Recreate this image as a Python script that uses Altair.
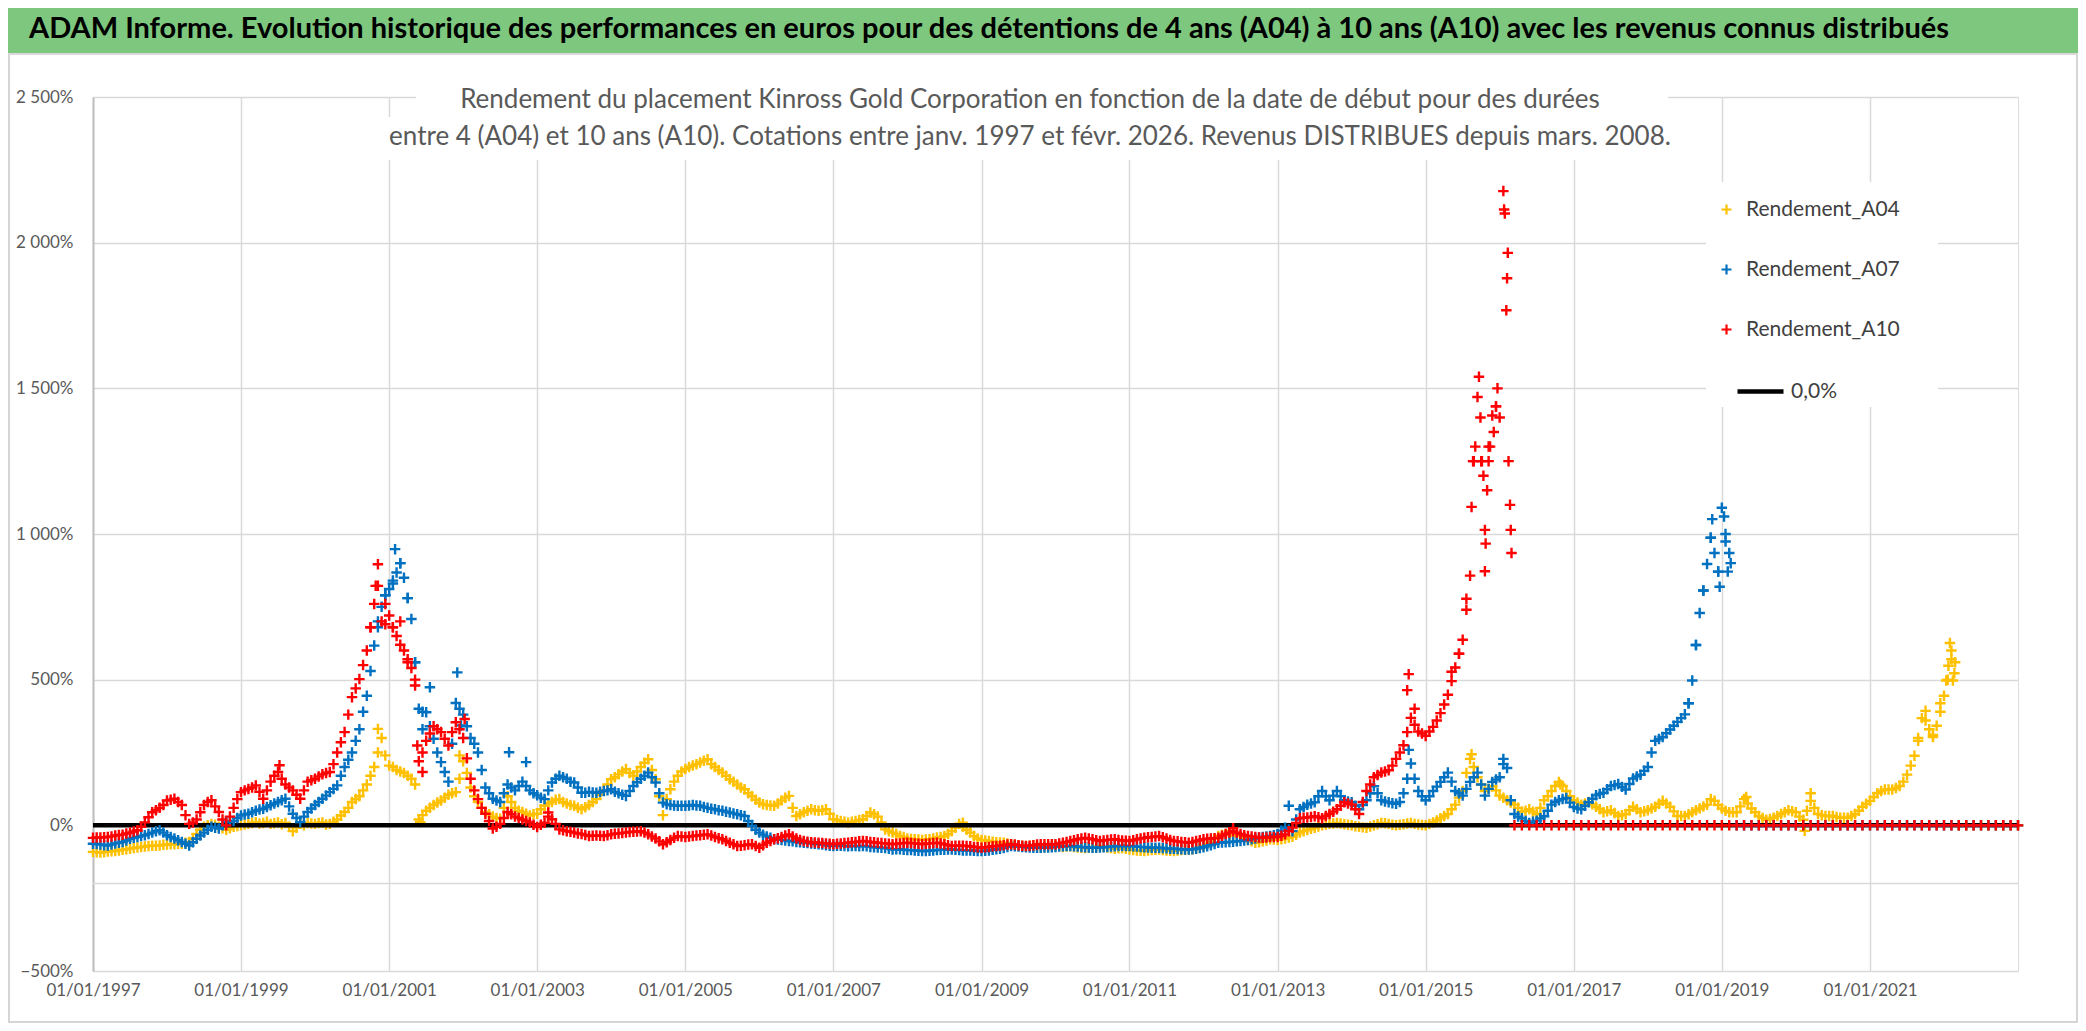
import altair as alt
import pandas as pd
import numpy as np

# ---------------- data (percent) ----------------
# main readings every 0.1 year from 1997.0; second readings every 0.1 year from 1997.05
START = 1997.0
START_H = 1997.05
STEP = 0.1

a04 = [
    -91, -93, -90, -88, -84, -80, -76, -73, -70, -69,   # 1997
    -66, -65, -63, -57, -30, -5, 5, -5, -15, -5,        # 1998
    0, 5, 11, 8, 5, 10, 8, -20, 5, 8,                   # 1999
    5, 10, 5, 20, 46, 80, 100, 140, 200, 300,           # 2000
    205, 190, 180, 160, 20, 50, 70, 85, 105, 114,       # 2001
    220, 130, 80, 46, 30, 23, 100, 60, 46, 34,          # 2002
    40, 67, 80, 90, 75, 67, 55, 70, 90, 120,            # 2003
    158, 175, 193, 170, 200, 227, 158, 35, 124, 170,    # 2004
    193, 205, 216, 227, 200, 181, 158, 140, 124, 100,   # 2005
    78, 70, 67, 85, 101, 32, 45, 55, 50, 55,            # 2006
    21, 15, 9, 15, 21, 44, 30, -14, -25, -37,           # 2007
    -45, -48, -50, -48, -42, -37, -20, 5, -15, -37,     # 2008
    -50, -54, -58, -60, -65, -70, -72, -70, -75, -72,   # 2009
    -70, -74, -72, -76, -78, -75, -72, -76, -80, -78,   # 2010
    -83, -86, -88, -85, -83, -86, -88, -85, -83, -80,   # 2011
    -71, -55, -37, -30, -35, -37, -50, -60, -55, -48,   # 2012
    -50, -45, -39, -25, -16, -8, 0, 5, 8, 4,            # 2013
    0, -5, -8, 0, 8, 5, 0, 4, 8, 3,                     # 2014
    0, 10, 24, 39, 71, 118, 228, 165, 118, 134,         # 2015
    102, 86, 71, 47, 55, 39, 86, 118, 149, 118,         # 2016
    86, 71, 80, 64, 45, 52, 32, 39, 64, 45,             # 2017
    52, 64, 84, 64, 32, 32, 45, 58, 71, 84,             # 2018
    58, 45, 45, 90, 58, 32, 19, 26, 39, 52,             # 2019
    45, 19, 84, 39, 32, 32, 26, 26, 39, 64,             # 2020
    84, 110, 123, 123, 135, 174, 239, 368, 330, 342,    # 2021
    445, 600, 0, 0, 0, 0, 0, 0, 0, 0,                   # 2022
    0,                                                  # 2023
]
a04_h = [
    -92, -92, -89, -86, -82, -78, -74, -71, -70, -67,   # 1997
    -65, -64, -60, -46, -15, 0, 2, -10, -10, -2,        # 1998
    3, 8, 6, 12, 7, 4, -5, -8, 0, 6,                    # 1999
    8, 3, 12, 34, 60, 90, 120, 170, 250, 240,           # 2000
    200, 185, 170, 140, 35, 60, 78, 95, 110, 160,       # 2001
    180, 100, 60, 38, 25, 60, 80, 50, 40, 38,           # 2002
    55, 75, 88, 80, 70, 60, 62, 80, 105, 140,           # 2003
    165, 185, 180, 185, 215, 190, 100, 90, 150, 185,    # 2004
    200, 210, 222, 210, 190, 170, 150, 130, 110, 88,    # 2005
    72, 68, 75, 95, 60, 38, 50, 52, 52, 40,             # 2006
    18, 12, 12, 18, 32, 38, 10, -20, -30, -40,          # 2007
    -47, -49, -49, -45, -40, -30, -8, -5, -25, -45,     # 2008
    -52, -56, -59, -62, -68, -71, -71, -72, -74, -71,   # 2009
    -72, -73, -74, -77, -76, -73, -74, -78, -79, -80,   # 2010
    -85, -87, -86, -84, -85, -87, -86, -84, -82, -76,   # 2011
    -63, -45, -33, -32, -36, -43, -55, -58, -52, -49,   # 2012
    -48, -42, -32, -20, -12, -4, 3, 6, 6, 2,            # 2013
    -3, -7, -4, 4, 7, 2, 2, 6, 5, 1,                    # 2014
    5, 17, 32, 55, 95, 180, 200, 140, 125, 120,         # 2015
    95, 78, 60, 50, 47, 60, 100, 135, 135, 100,         # 2016
    78, 75, 72, 55, 48, 42, 35, 52, 55, 48,             # 2017
    58, 74, 75, 48, 32, 38, 52, 65, 90, 70,             # 2018
    50, 45, 65, 75, 45, 25, 22, 32, 45, 48,             # 2019
    30, 50, 60, 35, 32, 29, 26, 32, 50, 74,             # 2020
    97, 118, 123, 128, 150, 205, 300, 360, 310, 390,    # 2021
    500, 560,                                           # 2022
]

a07 = [
    -63, -66, -69, -62, -57, -46, -40, -34, -25, -17,   # 1997
    -34, -45, -57, -69, -46, -25, -5, -11, 11, 15,      # 1998
    34, 40, 50, 57, 69, 80, 91, 40, 11, 46,             # 1999
    70, 91, 114, 137, 200, 250, 330, 445, 617, 750,     # 2000
    811, 868, 850, 708, 400, 388, 297, 217, 150, 420,   # 2001
    380, 300, 250, 130, 91, 80, 140, 120, 150, 120,     # 2002
    103, 90, 147, 170, 160, 147, 112, 115, 112, 118,    # 2003
    124, 110, 101, 135, 160, 181, 147, 78, 70, 67,      # 2004
    67, 70, 67, 60, 55, 50, 44, 38, 32, -2,             # 2005
    -25, -38, -48, -50, -54, -57, -60, -62, -65, -68,   # 2006
    -71, -70, -72, -71, -71, -74, -76, -78, -83, -82,   # 2007
    -85, -86, -88, -87, -85, -84, -83, -85, -86, -87,   # 2008
    -88, -86, -82, -78, -71, -73, -75, -77, -77, -76,   # 2009
    -74, -72, -71, -73, -75, -77, -76, -74, -72, -71,   # 2010
    -71, -73, -75, -77, -77, -79, -80, -82, -83, -80,   # 2011
    -75, -68, -60, -58, -56, -54, -50, -45, -40, -37,   # 2012
    -30, -8, -20, 55, 71, 79, 118, 86, 118, 86,         # 2013
    79, 55, 86, 134, 86, 79, 74, 110, 212, 118,         # 2014
    86, 118, 149, 181, 118, 102, 149, 181, 102, 149,    # 2015
    165, 197, 39, 24, 8, 16, 31, 71, 86, 94,            # 2016
    63, 55, 79, 103, 112, 135, 142, 123, 161, 174,      # 2017
    200, 290, 303, 329, 355, 381, 497, 729, 897, 935,   # 2018
    1090, 935, 0, 0, 0, 0, 0, 0, 0, 0,                  # 2019
    0, 0, 0, 0, 0, 0, 0, 0, 0, 0,                       # 2020
    0, 0, 0, 0, 0, 0, 0, 0, 0, 0,                       # 2021
    0, 0, 0, 0, 0, 0, 0, 0, 0, 0,                       # 2022
    0,                                                  # 2023
]
a07_h = [
    -64, -68, -66, -60, -52, -43, -37, -30, -20, -25,   # 1997
    -40, -51, -63, -58, -35, -15, -8, 0, 13, 25,        # 1998
    37, 45, 54, 63, 75, 86, 65, 25, 30, 58,             # 1999
    80, 102, 125, 170, 225, 290, 390, 530, 680, 790,    # 2000
    840, 900, 780, 560, 390, 340, 250, 183, 280, 400,   # 2001
    340, 280, 190, 110, 85, 110, 130, 135, 135, 110,    # 2002
    95, 120, 160, 165, 150, 130, 112, 113, 115, 120,    # 2003
    115, 105, 118, 148, 170, 165, 110, 72, 68, 67,      # 2004
    68, 68, 63, 57, 52, 47, 41, 35, 15, -15,            # 2005
    -32, -43, -49, -52, -55, -58, -61, -63, -66, -70,   # 2006
    -70, -71, -71, -72, -72, -75, -77, -80, -82, -84,   # 2007
    -85, -87, -88, -86, -84, -83, -84, -86, -86, -88,   # 2008
    -87, -84, -80, -74, -72, -74, -76, -77, -76, -75,   # 2009
    -73, -71, -72, -74, -76, -77, -75, -73, -71, -71,   # 2010
    -72, -74, -76, -77, -78, -80, -81, -83, -82, -78,   # 2011
    -72, -64, -59, -57, -55, -52, -48, -42, -38, -34,   # 2012
    -18, -14, 20, 63, 75, 100, 100, 102, 100, 82,       # 2013
    67, 70, 110, 110, 82, 76, 80, 160, 160, 100,        # 2014
    100, 133, 165, 150, 110, 125, 165, 140, 125, 157,   # 2015
    210, 86, 30, 15, 12, 24, 50, 80, 90, 78,            # 2016
    58, 67, 91, 108, 124, 138, 132, 142, 168, 187,      # 2017
    250, 296, 316, 342, 368, 419, 619, 806, 987, 871,   # 2018
    1000,                                               # 2019
]

a10 = [
    -43, -42, -40, -35, -32, -25, -17, 10, 45, 60,      # 1997
    85, 91, 70, 5, 20, 70, 86, 46, 0, 60,               # 1998
    114, 125, 137, 91, 150, 183, 140, 120, 91, 150,     # 1999
    160, 175, 183, 250, 320, 440, 502, 600, 760, 700,   # 2000
    720, 650, 600, 540, 220, 290, 340, 320, 274, 354,   # 2001
    300, 160, 90, 40, -11, 5, 46, 30, 20, 10,           # 2002
    -6, 9, 21, -14, -20, -25, -30, -37, -35, -37,       # 2003
    -31, -28, -25, -22, -20, -31, -45, -65, -50, -37,   # 2004
    -40, -37, -34, -31, -40, -48, -60, -71, -68, -65,   # 2005
    -77, -60, -48, -40, -31, -45, -54, -58, -60, -62,   # 2006
    -65, -62, -60, -57, -54, -57, -60, -62, -65, -62,   # 2007
    -60, -62, -65, -62, -60, -65, -71, -70, -71, -74,   # 2008
    -77, -74, -71, -68, -65, -68, -71, -68, -65, -65,   # 2009
    -65, -60, -54, -48, -43, -48, -54, -50, -48, -52,   # 2010
    -54, -48, -43, -40, -37, -45, -54, -57, -60, -54,   # 2011
    -48, -45, -43, -30, -20, -30, -37, -40, -43, -40,   # 2012
    -40, -31, -8, 24, 27, 31, 24, 39, 55, 79,           # 2013
    71, 39, 118, 165, 181, 189, 228, 275, 369, 322,     # 2014
    307, 338, 385, 448, 542, 637, 857, 1470, 1014, 1407,  # 2015
    1400, 1878, 0, 0, 0, 0, 0, 0, 0, 0,                 # 2016
    0, 0, 0, 0, 0, 0, 0, 0, 0, 0,                       # 2017
    0, 0, 0, 0, 0, 0, 0, 0, 0, 0,                       # 2018
    0, 0, 0, 0, 0, 0, 0, 0, 0, 0,                       # 2019
    0, 0, 0, 0, 0, 0, 0, 0, 0, 0,                       # 2020
    0, 0, 0, 0, 0, 0, 0, 0, 0, 0,                       # 2021
    0, 0, 0, 0, 0, 0, 0, 0, 0, 0,                       # 2022
    0,                                                  # 2023
]
a10_h = [
    -42, -41, -38, -33, -28, -21, -5, 28, 52, 70,       # 1997
    88, 80, 35, 10, 45, 80, 65, 20, 30, 90,             # 1998
    120, 130, 115, 120, 170, 160, 130, 105, 120, 155,   # 1999
    168, 180, 210, 285, 380, 470, 550, 680, 822, 690,   # 2000
    680, 620, 570, 480, 250, 315, 330, 297, 320, 330,   # 2001
    230, 120, 60, 15, -5, 25, 38, 25, 15, 2,            # 2002
    2, 30, 5, -17, -22, -28, -33, -36, -36, -34,        # 2003
    -29, -26, -23, -21, -25, -38, -55, -58, -43, -38,   # 2004
    -38, -35, -32, -35, -44, -54, -65, -70, -66, -71,   # 2005
    -68, -54, -44, -35, -38, -50, -56, -59, -61, -63,   # 2006
    -63, -61, -58, -55, -55, -58, -61, -63, -63, -61,   # 2007
    -61, -63, -63, -61, -62, -68, -70, -70, -72, -75,   # 2008
    -75, -72, -70, -66, -66, -70, -70, -66, -65, -65,   # 2009
    -62, -57, -51, -45, -45, -51, -52, -49, -50, -53,   # 2010
    -51, -45, -41, -38, -41, -50, -55, -58, -57, -51,   # 2011
    -46, -44, -36, -25, -25, -34, -38, -42, -42, -40,   # 2012
    -36, -20, 8, 26, 29, 28, 32, 47, 67, 75,            # 2013
    55, 80, 140, 173, 185, 205, 250, 320, 345, 315,     # 2014
    322, 360, 415, 495, 589, 740, 1250, 1250, 1300, 1438,  # 2015
]

# extra scattered readings in the volatile periods (decimal year, percent)
a04_extra_t = [2000.85, 2001.42, 2001.95, 2008.75, 2012.35, 2015.62, 2016.82, 2019.33,
               2020.12, 2020.20, 2021.65, 2021.75, 2021.85, 2021.95, 2022.03, 2022.06,
               2022.08, 2022.10, 2022.12, 2022.14]
a04_extra_v = [331, 11, 240, 9, -20, 244, 140, 97,
               -19, 110, 290, 393, 303, 419, 497, 548,
               626, 570, 497, 522]

a07_extra_t = [2000.85, 2000.95, 2001.05, 2001.08, 2001.15, 2001.25, 2001.35, 2001.45,
               2001.55, 2001.92, 2001.97, 2002.62, 2002.85, 2013.15, 2014.77, 2016.05,
               2018.55, 2018.65, 2018.75, 2018.85, 2018.87, 2018.95, 2018.97, 2019.03,
               2019.05, 2019.08, 2019.12]
a07_extra_v = [700, 790, 830, 948, 900, 780, 560, 330,
               474, 525, 343, 251, 217, 67, 259, 228,
               419, 619, 806, 987, 1051, 871, 819, 1060,
               974, 871, 900]

a10_extra_t = [1999.52, 2000.75, 2000.82, 2000.85, 2000.95, 2001.05, 2001.15, 2001.25,
               2001.35, 2001.38, 2001.45, 2002.02, 2003.15, 2012.40, 2014.75, 2014.77,
               2014.85, 2015.35, 2015.45, 2015.55, 2015.62, 2015.64, 2015.67, 2015.72,
               2015.74, 2015.76, 2015.78, 2015.80, 2015.81, 2015.83, 2015.85, 2015.87,
               2015.92, 2015.95, 2015.97, 2016.05, 2016.06, 2016.07, 2016.09, 2016.11,
               2016.12, 2016.14, 2016.15, 2016.16]
a10_extra_v = [206, 680, 822, 896, 760, 680, 700, 560,
               500, 274, 183, 365, 44, -10, 464, 519,
               400, 527, 589, 778, 1093, 1250, 1300, 1540,
               1400, 1250, 1200, 872, 967, 1150, 1250, 1300,
               1350, 1438, 1500, 2177, 2114, 2100, 1768, 1965,
               1250, 1100, 1014, 935]

series = ["Rendement_A04", "Rendement_A07", "Rendement_A10"]
colors = ["#FFC000", "#0070C0", "#FF0000"]
zero_label = ["0,0%"]
zero_t = [1997.0, 2023.0]
zero_v = [0, 0]
axis_line_v = [-200]

title_txt = ("ADAM Informe. Evolution historique des performances en euros pour des "
             "détentions de 4 ans (A04) à 10 ans (A10) avec les revenus connus distribués")
sub1 = "Rendement du placement Kinross Gold Corporation en fonction de la date de début pour des durées"
sub2 = ("entre 4 (A04) et 10 ans (A10). Cotations entre janv. 1997 et févr. 2026. "
        "Revenus DISTRIBUES depuis mars. 2008.")


def dec_to_iso(y):
    yr = int(np.floor(y + 1e-9))
    frac = y - yr
    d = pd.Timestamp(year=yr, month=1, day=1) + pd.Timedelta(days=frac * 365.25)
    return d.strftime("%Y-%m-%dT%H:%M:%S")


rows = []
for name, vals, half, et, ev in [
    (series[0], a04, a04_h, a04_extra_t, a04_extra_v),
    (series[1], a07, a07_h, a07_extra_t, a07_extra_v),
    (series[2], a10, a10_h, a10_extra_t, a10_extra_v),
]:
    for i, v in enumerate(vals):
        rows.append({"t": dec_to_iso(START + i * STEP), "v": v, "s": name})
    for i, v in enumerate(half):
        rows.append({"t": dec_to_iso(START_H + i * STEP), "v": v, "s": name})
    for t, v in zip(et, ev):
        rows.append({"t": dec_to_iso(t), "v": v, "s": name})
df = pd.DataFrame(rows)
df_a04 = df[df.s == series[0]]
df_rest = df[df.s != series[0]]

df_zero = pd.DataFrame({"t": [dec_to_iso(t) for t in zero_t], "v": zero_v, "lab": zero_label * 2})
df_m200 = pd.DataFrame({"v": axis_line_v})
one = alt.Data(values=[{"k": 1}])

FONT = "Lato"
PLUS = "M-1,0L1,0M0,-1L0,1"
GRID = "#D9D9D9"
MSIZE = 110
MSTROKE = 2.4

x_enc = alt.X(
    "t:T",
    title=None,
    scale=alt.Scale(domain=[alt.DateTime(year=1997, month=1, date=1),
                            alt.DateTime(year=2023, month=1, date=1)]),
    axis=alt.Axis(
        values=[alt.DateTime(year=y, month=1, date=1) for y in range(1997, 2022, 2)],
        format="%d/%m/%Y", labelFont=FONT, labelFontSize=17, labelColor="#595959",
        labelPadding=11, domain=False, ticks=False, grid=True, gridColor=GRID,
        gridWidth=1.5, labelOverlap=False, labelFlush=False),
)
y_enc = alt.Y(
    "v:Q",
    title=None,
    scale=alt.Scale(domain=[-500, 2500], nice=False, zero=False),
    axis=alt.Axis(
        values=list(range(-500, 2501, 500)),
        labelExpr="datum.value == 0 ? '0%' : replace(format(datum.value, ','), ',', ' ') + '%'",
        labelFont=FONT, labelFontSize=17, labelColor="#595959", labelPadding=20,
        domain=True, domainColor="#BFBFBF", domainWidth=2, ticks=False,
        grid=True, gridColor=GRID, gridWidth=1.5),
)

color_enc = alt.Color(
    "s:N",
    scale=alt.Scale(domain=series, range=colors),
    legend=alt.Legend(
        orient="none", legendX=1613, legendY=92, title=None,
        symbolType=PLUS, symbolSize=100, symbolStrokeWidth=2.2,
        labelFont=FONT, labelFontSize=21, labelColor="#404040", labelLimit=400,
        labelOffset=9, rowPadding=38, padding=10),
)

# background / decoration marks
banner = alt.Chart(one).mark_rect(color="#7DC87E").encode(
    x=alt.value(-85), x2=alt.value(1985), y=alt.value(-89), y2=alt.value(-44))
banner_line = alt.Chart(one).mark_rect(color="#D9D9D9").encode(
    x=alt.value(-85), x2=alt.value(1985), y=alt.value(-44), y2=alt.value(-42))
frame = alt.Chart(one).mark_rect(fillOpacity=0, stroke="#C8C8C8", strokeWidth=1.5).encode(
    x=alt.value(-84), x2=alt.value(1984), y=alt.value(-88), y2=alt.value(925))
title_mark = alt.Chart(one).mark_text(
    text=title_txt, font=FONT, fontSize=29, fontWeight="bold", color="#000000",
    align="left", baseline="middle").encode(x=alt.value(-64), y=alt.value(-68))
sub_box1 = alt.Chart(one).mark_rect(color="white").encode(
    x=alt.value(323), x2=alt.value(1575), y=alt.value(-17), y2=alt.value(22))
sub_box2 = alt.Chart(one).mark_rect(color="white").encode(
    x=alt.value(282), x2=alt.value(1585), y=alt.value(20), y2=alt.value(63))
legend_box = alt.Chart(one).mark_rect(color="white").encode(
    x=alt.value(1613), x2=alt.value(1845), y=alt.value(85), y2=alt.value(310))
sub1_mark = alt.Chart(one).mark_text(
    text=sub1, font=FONT, fontSize=26, color="#595959", align="center",
    baseline="middle").encode(x=alt.value(937), y=alt.value(3))
sub2_mark = alt.Chart(one).mark_text(
    text=sub2, font=FONT, fontSize=26, color="#595959", align="center",
    baseline="middle").encode(x=alt.value(937), y=alt.value(40))

axis_rule = alt.Chart(df_m200).mark_rule(color=GRID, strokeWidth=1.5).encode(y=alt.Y("v:Q"))

pts_a04 = alt.Chart(df_a04).mark_point(
    shape=PLUS, filled=False, size=MSIZE, strokeWidth=MSTROKE, opacity=1).encode(
    x=x_enc, y=y_enc, color=color_enc)

zero_line = alt.Chart(df_zero).mark_line(strokeWidth=4.5).encode(
    x="t:T", y="v:Q",
    stroke=alt.Stroke(
        "lab:N", scale=alt.Scale(domain=zero_label, range=["#000000"]),
        legend=alt.Legend(
            orient="none", legendX=1632, legendY=259, title=None,
            symbolType="stroke", symbolSize=2116, symbolStrokeWidth=4.5,
            labelFont=FONT, labelFontSize=21, labelColor="#404040",
            labelOffset=5, padding=10)),
)

pts_rest = alt.Chart(df_rest).mark_point(
    shape=PLUS, filled=False, size=MSIZE, strokeWidth=MSTROKE, opacity=1).encode(
    x="t:T", y="v:Q", color=alt.Color("s:N"))

chart = alt.layer(
    pts_a04, frame, banner, banner_line, title_mark, sub_box1, sub_box2, sub1_mark, sub2_mark,
    legend_box, axis_rule, zero_line, pts_rest,
).properties(
    width=1925, height=874,
    padding={"left": 85, "top": 89, "right": 60, "bottom": 52},
    autosize="none",
).configure_view(strokeWidth=0).configure(background="white")

chart.save("out.html", embed_options={"renderer": "svg", "actions": False})
